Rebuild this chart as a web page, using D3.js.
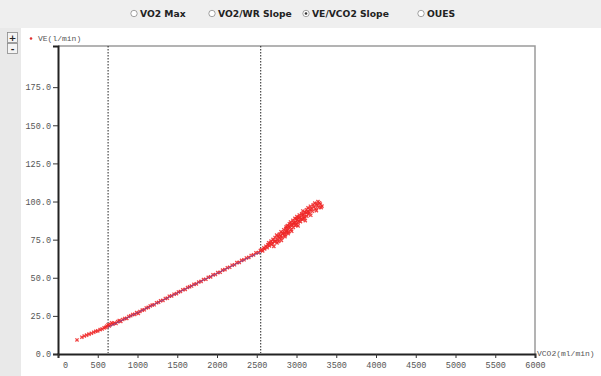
<!DOCTYPE html>
<html>
<head>
<meta charset="utf-8">
<script src="https://cdn.jsdelivr.net/npm/d3@7"></script>
<style>
  html, body { margin: 0; padding: 0; background: #ffffff; }
  svg { display: block; }
</style>
</head>
<body>
<svg id="chart" width="601" height="376"></svg>
<script>
// Measured VE against VCO2 during the exercise test: [VCO2 ml/min, VE l/min]
const samples = [
  [239, 9.2], [300, 11.0], [330, 11.8], [360, 12.4], [390, 13.0], [420, 13.6], [450, 14.3],
  [475, 14.9], [500, 15.2], [530, 16.0], [555, 16.4], [580, 17.1], [600, 17.5], [615, 18.3],
  [630, 19.2], [645, 18.4], [660, 19.3], [675, 20.4], [690, 19.6], [710, 20.3], [730, 20.0],
  [750, 21.2], [770, 22.0], [790, 21.4], [815, 22.6], [840, 23.3], [865, 23.4], [890, 24.6],
  [915, 25.1], [940, 25.9], [965, 26.0], [990, 27.1], [1010, 26.6], [1030, 27.9], [1060, 28.8],
  [1085, 29.0], [1110, 30.2], [1135, 30.6], [1160, 31.5], [1185, 32.1], [1210, 32.3],
  [1240, 33.6], [1265, 33.9], [1290, 34.9], [1320, 35.2], [1350, 36.4], [1375, 36.6],
  [1400, 37.9], [1430, 38.1], [1460, 39.2], [1490, 39.6], [1515, 40.7], [1540, 41.0],
  [1570, 42.1], [1600, 42.4], [1630, 43.6], [1655, 44.1], [1680, 44.6], [1710, 45.7],
  [1740, 46.0], [1770, 47.2], [1800, 47.6], [1830, 48.9], [1860, 49.0], [1890, 50.3],
  [1920, 50.6], [1950, 51.9], [1980, 52.1], [2010, 53.4], [2040, 53.6], [2070, 55.0],
  [2100, 55.3], [2130, 56.6], [2160, 56.9], [2190, 58.2], [2220, 58.5], [2250, 59.9],
  [2280, 60.1], [2310, 61.4], [2340, 61.8], [2370, 63.0], [2400, 63.4], [2430, 64.6],
  [2460, 65.0], [2490, 66.3], [2520, 66.5], [2545, 67.9], [2560, 68.4], [2575, 67.6],
  [2590, 69.6], [2600, 68.9], [2615, 70.7], [2630, 69.8], [2640, 71.6], [2650, 73.0],
  [2660, 70.9], [2670, 72.6], [2680, 74.0], [2690, 71.8], [2700, 72.8], [2705, 75.2],
  [2715, 70.6], [2720, 73.9], [2730, 76.4], [2740, 74.1], [2750, 78.0], [2755, 72.9],
  [2760, 75.3], [2770, 77.1], [2775, 73.8], [2785, 78.6], [2790, 76.0], [2800, 77.4],
  [2805, 80.2], [2810, 74.5], [2820, 76.5], [2825, 79.3], [2830, 78.8], [2840, 81.5],
  [2850, 79.6], [2855, 77.0], [2860, 78.1], [2865, 82.4], [2870, 83.5], [2875, 80.1],
  [2880, 80.7], [2885, 84.2], [2890, 82.0], [2895, 78.9], [2900, 79.9], [2905, 83.7],
  [2910, 85.4], [2920, 83.1], [2925, 86.6], [2930, 81.4], [2935, 84.9], [2940, 80.5],
  [2950, 84.6], [2955, 87.7], [2960, 83.0], [2965, 86.1], [2970, 85.8], [2980, 89.0],
  [2985, 84.3], [2990, 86.4], [2995, 88.5], [3000, 84.8], [3005, 90.1], [3010, 88.0],
  [3015, 86.2], [3020, 84.0], [3025, 89.3], [3030, 87.2], [3035, 91.2], [3040, 89.5],
  [3050, 86.8], [3060, 88.6], [3065, 92.0], [3070, 90.8], [3075, 88.4], [3080, 93.8],
  [3090, 91.5], [3095, 89.1], [3100, 89.9], [3105, 93.0], [3110, 87.5], [3120, 92.6],
  [3125, 94.6], [3130, 90.4], [3140, 93.4], [3145, 95.8], [3150, 91.8], [3160, 93.0],
  [3170, 94.7], [3175, 96.9], [3180, 91.0], [3190, 95.3], [3200, 93.6], [3210, 97.8],
  [3220, 96.4], [3230, 99.0], [3240, 95.2], [3250, 94.0], [3255, 98.4], [3260, 97.5],
  [3270, 100.0], [3280, 96.1], [3290, 99.2], [3300, 98.3], [3310, 96.0], [3320, 97.0]
];

// VE/VCO2 slope fit between the two thresholds
const slopeFit = [[630, 17.5], [2550, 67.0]];

// Threshold markers on the VCO2 axis
const thresholds = [630, 2550];

const xTicks = [0, 500, 1000, 1500, 2000, 2500, 3000, 3500, 4000, 4500, 5000, 5500, 6000];
const yTicks = [0, 25, 50, 75, 100, 125, 150, 175];

const modes = ["VO2 Max", "VO2/WR Slope", "VE/VCO2 Slope", "OUES"];
const selectedMode = "VE/VCO2 Slope";

const svg = d3.select("#chart");
const W = 601, H = 376;
const plot = { left: 58, right: 535, top: 46, bottom: 354 };

// Header bar and left strip
svg.append("rect").attr("x", 0).attr("y", 0).attr("width", W).attr("height", 28).attr("fill", "#efefef");
svg.append("rect").attr("x", 0).attr("y", 28).attr("width", 21).attr("height", H - 28).attr("fill", "#e9e9e9");

// Mode selector
const modeX = d3.scaleOrdinal().domain(modes).range([134, 212, 306, 421]);
const modeG = svg.append("g").selectAll("g").data(modes).join("g")
  .attr("transform", d => `translate(${modeX(d)},17)`);
modeG.append("circle").attr("cx", 0).attr("cy", -3.5).attr("r", 3.2)
  .attr("fill", "#ffffff").attr("stroke", "#8a8a8a").attr("stroke-width", 0.8);
modeG.filter(d => d === selectedMode).append("circle")
  .attr("cx", 0).attr("cy", -3.5).attr("r", 1.3).attr("fill", "#333");
modeG.append("text").attr("x", 6).attr("y", 0)
  .attr("font-family", "DejaVu Sans, Verdana, sans-serif").attr("font-weight", "bold")
  .attr("font-size", 9.2).attr("fill", "#222").text(d => d);

// Zoom buttons
[["+", 32], ["-", 43]].forEach(([s, yy]) => {
  svg.append("rect").attr("x", 7.5).attr("y", yy + 0.5).attr("width", 10).attr("height", 10)
    .attr("fill", "#f4f4f4").attr("stroke", "#8a8a8a").attr("stroke-width", 0.8);
  svg.append("text").attr("x", 12.5).attr("y", yy + 8.5).attr("text-anchor", "middle")
    .attr("font-family", "DejaVu Sans, sans-serif").attr("font-weight", "bold")
    .attr("font-size", 9).attr("fill", "#222").text(s);
});

// Scales
const x = d3.scaleLinear().domain([0, 6000]).range([plot.left, plot.right]);
const y = d3.scaleLinear().domain([0, 202]).range([plot.bottom, plot.top]);

// Frame: grey top/right border
svg.append("path")
  .attr("d", `M${plot.left},${plot.top}H${plot.right}V${plot.bottom}`)
  .attr("fill", "none").attr("stroke", "#9a9a9a").attr("stroke-width", 1.5);

const monoFont = "Liberation Mono, DejaVu Sans Mono, monospace";

// Y axis
const yAxis = d3.axisLeft(y).tickValues(yTicks).tickFormat(d3.format(".1f")).tickSize(5).tickPadding(2);
const yg = svg.append("g").attr("transform", `translate(${plot.left},0)`).call(yAxis);
yg.select(".domain").attr("stroke", "#222").attr("stroke-width", 2);
yg.selectAll(".tick line").attr("stroke", "#333");
yg.selectAll(".tick text").attr("font-family", monoFont).attr("font-size", 8.5).attr("fill", "#555");

// X axis
const xAxis = d3.axisBottom(x).tickValues(xTicks).tickFormat(d3.format("d")).tickSize(4).tickPadding(4);
const xg = svg.append("g").attr("transform", `translate(0,${plot.bottom})`).call(xAxis);
xg.select(".domain").attr("stroke", "#222").attr("stroke-width", 2);
xg.selectAll(".tick line").attr("stroke", "#333");
xg.selectAll(".tick text").attr("font-family", monoFont).attr("font-size", 8.5).attr("fill", "#555")
  .attr("dx", d => d === 0 ? 7 : 0);

// Axis titles
svg.append("text").attr("x", plot.right + 2).attr("y", plot.bottom + 2)
  .attr("font-family", monoFont).attr("font-size", 8).attr("fill", "#555").text("VCO2(ml/min)");

svg.append("circle").attr("cx", 31).attr("cy", 38.5).attr("r", 1.3).attr("fill", "#e03030");
svg.append("text").attr("x", 38).attr("y", 41)
  .attr("font-family", monoFont).attr("font-size", 8).attr("fill", "#555").text("VE(l/min)");

// Threshold lines
svg.append("g").selectAll("line").data(thresholds).join("line")
  .attr("x1", d => x(d)).attr("x2", d => x(d))
  .attr("y1", plot.top).attr("y2", plot.bottom - 1)
  .attr("stroke", "#222").attr("stroke-width", 1).attr("stroke-dasharray", "1.5,1.5");

// Sample markers (small crosses)
const cross = d3.symbol().type(d3.symbolX || d3.symbolCross).size(8);
svg.append("g").selectAll("path").data(samples).join("path")
  .attr("transform", d => `translate(${x(d[0])},${y(d[1])})`)
  .attr("d", cross)
  .attr("fill", "none").attr("stroke", "#ee2424").attr("stroke-width", 1.3).attr("opacity", 0.85);

// Slope fit line, drawn over the samples
svg.append("path").datum(slopeFit)
  .attr("d", d3.line().x(d => x(d[0])).y(d => y(d[1])))
  .attr("fill", "none").attr("stroke", "#4a48c0").attr("stroke-width", 1.2).attr("opacity", 0.5);
</script>
</body>
</html>
